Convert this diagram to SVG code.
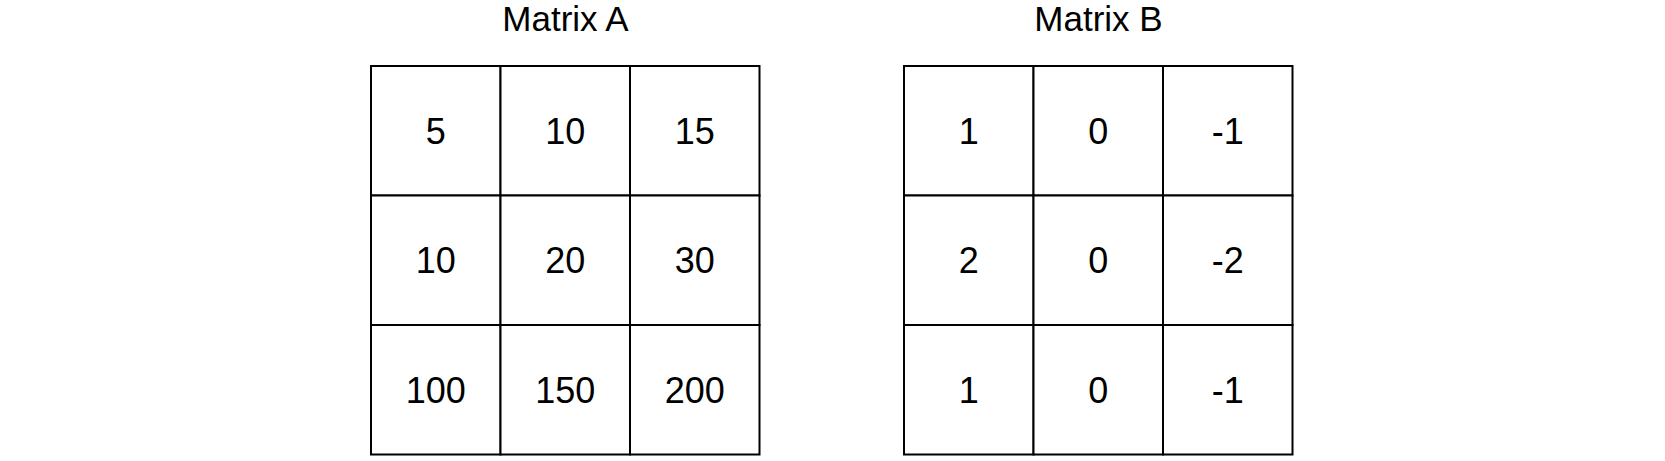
<svg xmlns="http://www.w3.org/2000/svg" width="1665" height="461" viewBox="0 0 1665 461">
<style>
.cell{fill:#ffffff;stroke:#000000;stroke-width:2}
.v{font-family:"Liberation Sans",Arial,sans-serif;font-size:36px;fill:#000000;text-anchor:middle}
.t{font-family:"Liberation Sans",Arial,sans-serif;font-size:35px;fill:#000000;text-anchor:middle}
</style>
<rect x="0" y="0" width="1665" height="461" fill="#ffffff"/>
<g id="matrixA">
<text class="t" x="565.5" y="30.5">Matrix A</text>
<g id="A11"><rect class="cell" x="371" y="66" width="129.5" height="129.5"/><text class="v" x="435.75" y="143.5">5</text></g>
<g id="A12"><rect class="cell" x="500.5" y="66" width="129.5" height="129.5"/><text class="v" x="565.25" y="143.5">10</text></g>
<g id="A13"><rect class="cell" x="630" y="66" width="129.5" height="129.5"/><text class="v" x="694.75" y="143.5">15</text></g>
<g id="A21"><rect class="cell" x="371" y="195.5" width="129.5" height="129.5"/><text class="v" x="435.75" y="273">10</text></g>
<g id="A22"><rect class="cell" x="500.5" y="195.5" width="129.5" height="129.5"/><text class="v" x="565.25" y="273">20</text></g>
<g id="A23"><rect class="cell" x="630" y="195.5" width="129.5" height="129.5"/><text class="v" x="694.75" y="273">30</text></g>
<g id="A31"><rect class="cell" x="371" y="325" width="129.5" height="129.5"/><text class="v" x="435.75" y="402.5">100</text></g>
<g id="A32"><rect class="cell" x="500.5" y="325" width="129.5" height="129.5"/><text class="v" x="565.25" y="402.5">150</text></g>
<g id="A33"><rect class="cell" x="630" y="325" width="129.5" height="129.5"/><text class="v" x="694.75" y="402.5">200</text></g>
</g>
<g id="matrixB">
<text class="t" x="1098.5" y="30.5">Matrix B</text>
<g id="B11"><rect class="cell" x="904" y="66" width="129.5" height="129.5"/><text class="v" x="968.75" y="143.5">1</text></g>
<g id="B12"><rect class="cell" x="1033.5" y="66" width="129.5" height="129.5"/><text class="v" x="1098.25" y="143.5">0</text></g>
<g id="B13"><rect class="cell" x="1163" y="66" width="129.5" height="129.5"/><text class="v" x="1227.75" y="143.5">-1</text></g>
<g id="B21"><rect class="cell" x="904" y="195.5" width="129.5" height="129.5"/><text class="v" x="968.75" y="273">2</text></g>
<g id="B22"><rect class="cell" x="1033.5" y="195.5" width="129.5" height="129.5"/><text class="v" x="1098.25" y="273">0</text></g>
<g id="B23"><rect class="cell" x="1163" y="195.5" width="129.5" height="129.5"/><text class="v" x="1227.75" y="273">-2</text></g>
<g id="B31"><rect class="cell" x="904" y="325" width="129.5" height="129.5"/><text class="v" x="968.75" y="402.5">1</text></g>
<g id="B32"><rect class="cell" x="1033.5" y="325" width="129.5" height="129.5"/><text class="v" x="1098.25" y="402.5">0</text></g>
<g id="B33"><rect class="cell" x="1163" y="325" width="129.5" height="129.5"/><text class="v" x="1227.75" y="402.5">-1</text></g>
</g>
<g id="connectors"></g>
</svg>
